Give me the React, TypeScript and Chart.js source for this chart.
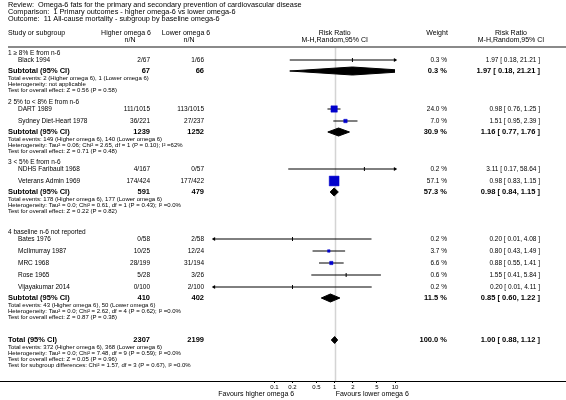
import React, { useEffect, useRef } from "react";
import { Chart, registerables } from "chart.js";
Chart.register(...registerables);

const FONT = "'Liberation Sans', Arial, Helvetica, sans-serif";

const titleLines = [
  "Review:  Omega-6 fats for the primary and secondary prevention of cardiovascular disease",
  "Comparison:  1 Primary outcomes - higher omega-6 vs lower omega-6",
  "Outcome:  11 All-cause mortality - subgroup by baseline omega-6",
];

const groupLabels = [
  "1 \u2265 8% E from n-6",
  "2 5% to < 8% E from n-6",
  "3 < 5% E from n-6",
  "4 baseline n-6 not reported",
];

const studyNames = [
  "Black 1994",
  "DART 1989",
  "Sydney Diet-Heart 1978",
  "NDHS Faribault 1968",
  "Veterans Admin 1969",
  "Bates 1976",
  "McIlmurray 1987",
  "MRC 1968",
  "Rose 1965",
  "Vijayakumar 2014",
];
const studyGroup = [0, 1, 1, 2, 2, 3, 3, 3, 3, 3];
const studyHigher = ["2/67", "111/1015", "36/221", "4/167", "174/424", "0/58", "10/25", "28/199", "5/28", "0/100"];
const studyLower = ["1/66", "113/1015", "27/237", "0/57", "177/422", "2/58", "12/24", "31/194", "3/26", "2/100"];
const studyWeight = [0.3, 24.0, 7.0, 0.2, 57.1, 0.2, 3.7, 6.6, 0.6, 0.2];
const studyRR = [1.97, 0.98, 1.51, 3.11, 0.98, 0.2, 0.8, 0.88, 1.55, 0.2];
const studyLo = [0.18, 0.76, 0.95, 0.17, 0.83, 0.01, 0.43, 0.55, 0.41, 0.01];
const studyHi = [21.21, 1.25, 2.39, 58.64, 1.15, 4.08, 1.49, 1.41, 5.84, 4.11];

const subHigher = [67, 1239, 591, 410];
const subLower = [66, 1252, 479, 402];
const subWeight = [0.3, 30.9, 57.3, 11.5];
const subRR = [1.97, 1.16, 0.98, 0.85];
const subLo = [0.18, 0.77, 0.84, 0.6];
const subHi = [21.21, 1.76, 1.15, 1.22];
const subNotes = [
  ["Total events: 2 (Higher omega 6), 1 (Lower omega 6)", "Heterogeneity: not applicable", "Test for overall effect: Z = 0.56 (P = 0.58)"],
  ["Total events: 149 (Higher omega 6), 140 (Lower omega 6)", "Heterogeneity: Tau\u00b2 = 0.06; Chi\u00b2 = 2.65, df = 1 (P = 0.10); I\u00b2 =62%", "Test for overall effect: Z = 0.71 (P = 0.48)"],
  ["Total events: 178 (Higher omega 6), 177 (Lower omega 6)", "Heterogeneity: Tau\u00b2 = 0.0; Chi\u00b2 = 0.61, df = 1 (P = 0.43); I\u00b2 =0.0%", "Test for overall effect: Z = 0.22 (P = 0.82)"],
  ["Total events: 43 (Higher omega 6), 50 (Lower omega 6)", "Heterogeneity: Tau\u00b2 = 0.0; Chi\u00b2 = 2.62, df = 4 (P = 0.62); I\u00b2 =0.0%", "Test for overall effect: Z = 0.87 (P = 0.38)"],
];

const totalHigher = 2307;
const totalLower = 2199;
const totalWeight = 100.0;
const totalRR = 1.0;
const totalLo = 0.88;
const totalHi = 1.12;
const totalNotes = [
  "Total events: 372 (Higher omega 6), 368 (Lower omega 6)",
  "Heterogeneity: Tau\u00b2 = 0.0; Chi\u00b2 = 7.48, df = 9 (P = 0.59); I\u00b2 =0.0%",
  "Test for overall effect: Z = 0.05 (P = 0.96)",
  "Test for subgroup differences: Chi\u00b2 = 1.57, df = 3 (P = 0.67), I\u00b2 =0.0%",
];

const xTicks = [0.1, 0.2, 0.5, 1, 2, 5, 10];
const xMin = 0.01;
const xMax = 10;
const favoursLeft = "Favours higher omega 6";
const favoursRight = "Favours lower omega 6";

// ---------- layout (vertical steps in px-units of the y scale) ----------
const GROUP_GAP = [6, 12, 11, 21];
const GROUP_TO_STUDY = 7;
const STUDY_STEP = 12;
const STUDY_TO_SUB = 11;
const SUB_TO_NOTE = 7;
const NOTE_STEP = 6;
const TOTAL_GAP = 23;
const TOP = 47;
const BOTTOM = 381;
const Y_RANGE = BOTTOM - TOP;

type Row = { kind: string; idx: number; pos: number; note?: string };
const rows: Row[] = [];
const studyPos: number[] = new Array(studyNames.length).fill(0);
const subPos: number[] = [0, 0, 0, 0];
let totalPos = 0;
(() => {
  let p = 0;
  for (let g = 0; g < groupLabels.length; g++) {
    p += GROUP_GAP[g];
    rows.push({ kind: "group", idx: g, pos: p });
    let first = true;
    studyNames.forEach((_, i) => {
      if (studyGroup[i] !== g) return;
      p += first ? GROUP_TO_STUDY : STUDY_STEP;
      first = false;
      studyPos[i] = p;
      rows.push({ kind: "study", idx: i, pos: p });
    });
    p += STUDY_TO_SUB;
    subPos[g] = p;
    rows.push({ kind: "sub", idx: g, pos: p });
    subNotes[g].forEach((n, k) => {
      p += k === 0 ? SUB_TO_NOTE : NOTE_STEP;
      rows.push({ kind: "note", idx: g, pos: p, note: n });
    });
  }
  p += TOTAL_GAP;
  totalPos = p;
  rows.push({ kind: "total", idx: 0, pos: p });
  totalNotes.forEach((n, k) => {
    p += k === 0 ? SUB_TO_NOTE : NOTE_STEP;
    rows.push({ kind: "note", idx: -1, pos: p, note: n });
  });
})();

const COL = {
  left: 8,
  indent: 18,
  higherR: 150,
  lowerR: 204,
  higherC: 126,
  lowerC: 186,
  weightR: 447,
  weightC: 437,
  ciR: 540,
  ciC: 511,
  plotL: 214,
  plotR: 395,
};

const fmtCI = (r: number, l: number, h: number) => `${r.toFixed(2)} [ ${l.toFixed(2)}, ${h.toFixed(2)} ]`;
const fmtW = (w: number) => `${w.toFixed(1)} %`;

const BLUE = "#0000cc";

function diamond(lo: number, rr: number, hi: number, y: number, h: number) {
  return [
    { x: lo, y },
    { x: rr, y: y - h },
    { x: hi, y },
    { x: rr, y: y + h },
    { x: lo, y },
  ];
}

export default function App() {
  const ref = useRef<HTMLCanvasElement>(null);
  useEffect(() => {
    document.body.style.margin = "0";
    const canvas = ref.current!;

    const ciSets = studyNames.map((n, i) => ({
      type: "line" as const,
      label: n,
      data: [
        { x: studyLo[i], y: studyPos[i] },
        { x: studyHi[i], y: studyPos[i] },
      ],
      borderColor: "#000",
      borderWidth: 1,
      pointRadius: 0,
      fill: false,
      order: 3,
    }));

    const arrows: { x: number; y: number }[] = [];
    const arrowRot: number[] = [];
    studyNames.forEach((_, i) => {
      if (studyLo[i] <= xMin) {
        arrows.push({ x: xMin, y: studyPos[i] });
        arrowRot.push(-90);
      }
      if (studyHi[i] >= xMax) {
        arrows.push({ x: xMax, y: studyPos[i] });
        arrowRot.push(90);
      }
    });

    const sqSide = studyWeight.map((w) => 1.3 * Math.sqrt(w));
    const isTick = sqSide.map((s) => s < 2);

    const diamonds = subRR.map((r, g) => ({
      type: "line" as const,
      label: "Subtotal " + (g + 1),
      data: diamond(subLo[g], r, subHi[g], subPos[g], 4),
      borderColor: "#000",
      backgroundColor: "#000",
      borderWidth: 1,
      pointRadius: 0,
      fill: "shape" as any,
      order: 1,
    }));
    diamonds.push({
      type: "line" as const,
      label: "Total",
      data: diamond(totalLo, totalRR, totalHi, totalPos, 3.5),
      borderColor: "#000",
      backgroundColor: "#000",
      borderWidth: 1,
      pointRadius: 0,
      fill: "shape" as any,
      order: 1,
    });

    const textPlugin = {
      id: "forestText",
      beforeDraw(chart: any) {
        const { ctx, width, height } = chart;
        ctx.save();
        ctx.fillStyle = "#fff";
        ctx.fillRect(0, 0, width, height);
        ctx.restore();
      },
      beforeDatasetsDraw(chart: any) {
        const { ctx, chartArea, scales } = chart;
        const x1 = Math.round(scales.x.getPixelForValue(1)) + 0.5;
        ctx.save();
        ctx.strokeStyle = "#d4d4d4";
        ctx.lineWidth = 1.5;
        ctx.beginPath();
        ctx.moveTo(x1, chartArea.top);
        ctx.lineTo(x1, chartArea.bottom);
        ctx.stroke();
        ctx.strokeStyle = "#8a8a8a";
        ctx.lineWidth = 2;
        ctx.beginPath();
        ctx.moveTo(8, chartArea.top);
        ctx.lineTo(chart.width, chartArea.top);
        ctx.stroke();
        ctx.strokeStyle = "#000";
        ctx.lineWidth = 1;
        ctx.beginPath();
        ctx.moveTo(0, chartArea.bottom + 0.5);
        ctx.lineTo(chart.width, chartArea.bottom + 0.5);
        ctx.stroke();
        ctx.restore();
      },
      afterDraw(chart: any) {
        const { ctx, scales, chartArea } = chart;
        const ys = scales.y;
        const xs = scales.x;
        const txt = (s: string, x: number, y: number, align: CanvasTextAlign, size: number, bold = false) => {
          ctx.font = `${bold ? "bold " : ""}${size}px ${FONT}`;
          ctx.textAlign = align;
          ctx.textBaseline = "middle";
          ctx.fillText(s, x, y);
        };
        ctx.save();
        ctx.fillStyle = "#000";
        titleLines.forEach((t, i) => txt(t, COL.left, 5 + i * 7, "left", 7.3));
        const h1 = 33;
        const h2 = 40;
        const hs = 7;
        txt("Study or subgroup", COL.left, h1, "left", hs);
        txt("Higher omega 6", COL.higherC, h1, "center", hs);
        txt("n/N", COL.higherC + 4, h2, "center", hs);
        txt("Lower omega 6", COL.lowerC, h1, "center", hs);
        txt("n/N", COL.lowerC + 3, h2, "center", hs);
        const xc = xs.getPixelForValue(1);
        txt("Risk Ratio", xc, h1, "center", hs);
        txt("M-H,Random,95% CI", xc, h2, "center", hs);
        txt("Weight", COL.weightC, h1, "center", hs);
        txt("Risk Ratio", COL.ciC, h1, "center", hs);
        txt("M-H,Random,95% CI", COL.ciC, h2, "center", hs);

        rows.forEach((r) => {
          const y = ys.getPixelForValue(r.pos);
          if (r.kind === "group") {
            txt(groupLabels[r.idx], COL.left, y, "left", 6.5);
          } else if (r.kind === "study") {
            const i = r.idx;
            txt(studyNames[i], COL.indent, y, "left", 6.5);
            txt(studyHigher[i], COL.higherR, y, "right", 6.5);
            txt(studyLower[i], COL.lowerR, y, "right", 6.5);
            txt(fmtW(studyWeight[i]), COL.weightR, y, "right", 6.5);
            txt(fmtCI(studyRR[i], studyLo[i], studyHi[i]), COL.ciR, y, "right", 6.5);
          } else if (r.kind === "sub") {
            const g = r.idx;
            txt("Subtotal (95% CI)", COL.left, y, "left", 7.5, true);
            txt(String(subHigher[g]), COL.higherR, y, "right", 7.5, true);
            txt(String(subLower[g]), COL.lowerR, y, "right", 7.5, true);
            txt(fmtW(subWeight[g]), COL.weightR, y, "right", 7.5, true);
            txt(fmtCI(subRR[g], subLo[g], subHi[g]), COL.ciR, y, "right", 7.5, true);
          } else if (r.kind === "total") {
            txt("Total (95% CI)", COL.left, y, "left", 7.5, true);
            txt(String(totalHigher), COL.higherR, y, "right", 7.5, true);
            txt(String(totalLower), COL.lowerR, y, "right", 7.5, true);
            txt(fmtW(totalWeight), COL.weightR, y, "right", 7.5, true);
            txt(fmtCI(totalRR, totalLo, totalHi), COL.ciR, y, "right", 7.5, true);
          } else if (r.kind === "note") {
            txt(r.note || "", COL.left, y, "left", 6);
          }
        });
        const fy = chartArea.bottom + 13;
        txt(favoursLeft, xs.getPixelForValue(0.05), fy, "center", 7);
        txt(favoursRight, xc + 1, fy, "left", 7);
        ctx.restore();
      },
    };

    const chart = new Chart(canvas, {
      type: "line",
      data: {
        datasets: [
          ...diamonds,
          ...ciSets,
          {
            type: "scatter" as const,
            label: "Studies",
            data: studyRR.map((r, i) => ({ x: r, y: studyPos[i] })),
            pointStyle: isTick.map((t) => (t ? "line" : "rect")) as any,
            pointRotation: isTick.map((t) => (t ? 90 : 0)),
            pointRadius: sqSide.map((s, i) => (isTick[i] ? 2 : s / Math.SQRT2)),
            pointBackgroundColor: isTick.map((t) => (t ? "#000" : BLUE)),
            pointBorderColor: isTick.map((t) => (t ? "#000" : BLUE)),
            pointBorderWidth: isTick.map((t) => (t ? 1 : 0.5)),
            showLine: false,
            order: 0,
          } as any,
          {
            type: "scatter" as const,
            label: "Arrows",
            data: arrows,
            pointStyle: "triangle",
            pointRotation: arrowRot,
            pointRadius: 2.2,
            pointBackgroundColor: "#000",
            pointBorderColor: "#000",
            pointBorderWidth: 0,
            showLine: false,
            clip: false as any,
            order: 0,
          } as any,
        ],
      },
      options: {
        animation: false,
        responsive: false,
        devicePixelRatio: 1,
        events: [],
        layout: { padding: { left: COL.plotL, right: 566 - COL.plotR, top: TOP, bottom: 0 } },
        plugins: { legend: { display: false }, tooltip: { enabled: false }, title: { display: false } },
        scales: {
          x: {
            type: "logarithmic",
            min: xMin,
            max: xMax,
            afterBuildTicks: (s: any) => {
              s.ticks = xTicks.map((v) => ({ value: v }));
            },
            afterFit: (s: any) => {
              s.height = 400 - BOTTOM;
            },
            ticks: {
              autoSkip: false,
              maxRotation: 0,
              padding: 1,
              color: "#000",
              font: { size: 6, family: FONT },
              callback: (v: any) => String(v),
            },
            grid: { drawOnChartArea: false, tickLength: 2, color: "#000" },
            border: { display: false },
          },
          y: {
            type: "linear",
            display: false,
            min: 0,
            max: Y_RANGE,
            reverse: true,
          },
        },
      },
      plugins: [textPlugin],
    } as any);
    return () => chart.destroy();
  }, []);
  return (
    <div style={{ position: "absolute", left: 0, top: 0, width: 566, height: 400 }}>
      <canvas ref={ref} width={566} height={400} style={{ width: 566, height: 400 }} />
    </div>
  );
}
